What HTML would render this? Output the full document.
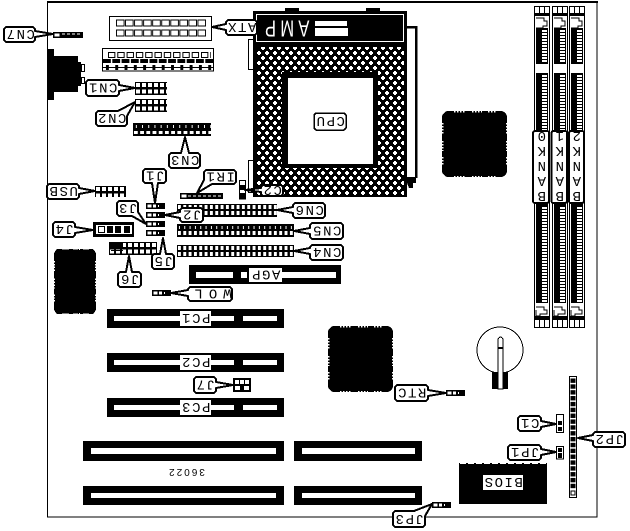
<!DOCTYPE html>
<html><head><meta charset="utf-8"><style>
html,body{margin:0;padding:0;background:#fff}
svg{display:block}
text{font-family:"Liberation Mono",monospace;font-size:14px;letter-spacing:1.5px;text-anchor:middle;fill:#000}
.l{fill:#fff;stroke:#000;stroke-width:2;stroke-linejoin:round}
</style></head><body>
<svg xmlns="http://www.w3.org/2000/svg" width="630" height="531" viewBox="0 0 630 531" shape-rendering="crispEdges">
<defs>
<pattern id="dots" width="8" height="10" patternUnits="userSpaceOnUse"><rect width="8" height="10" fill="#000"/><path d="M1 2H5V4H1ZM2 1H4V5H2ZM5 7H8V9H5ZM0 7H1V9H0ZM6 6H8V10H6Z" fill="#fff"/></pattern>
<pattern id="g6" width="6" height="6.5" patternUnits="userSpaceOnUse"><rect width="6" height="6.5" fill="#000"/><rect x="1" y="1" width="4" height="4" fill="#fff"/></pattern>
<pattern id="g5" width="5.33" height="6" patternUnits="userSpaceOnUse"><rect width="5.33" height="6" fill="#000"/><rect x="1" y="1" width="3" height="4" fill="#fff"/></pattern>
<pattern id="g5b" width="5.33" height="13" patternUnits="userSpaceOnUse"><rect width="5.33" height="13" fill="#000"/><rect x="1" y="7" width="3" height="4" fill="#fff"/><rect x="2" y="2" width="1" height="3" fill="#fff"/></pattern>
<pattern id="g6b" width="6.2" height="13" patternUnits="userSpaceOnUse"><rect width="6.2" height="13" fill="#000"/><rect x="1" y="8" width="4" height="3" fill="#fff"/><rect x="3" y="2" width="1" height="3" fill="#fff"/></pattern>
<pattern id="sq" width="9.05" height="7" patternUnits="userSpaceOnUse"><rect x=".5" y=".5" width="7.5" height="6" fill="#fff" stroke="#000"/></pattern>
<pattern id="sq2" width="9.3" height="6" patternUnits="userSpaceOnUse"><rect x=".5" y=".5" width="6.5" height="5" fill="#fff" stroke="#000"/></pattern>
<pattern id="dash" width="9.3" height="4" patternUnits="userSpaceOnUse"><rect width="8" height="4" fill="#000"/></pattern>
<pattern id="pin" width="9.3" height="5" patternUnits="userSpaceOnUse"><rect y="2" width="9.3" height="1" fill="#000"/><rect x="3" width="3" height="5" fill="#000"/></pattern>
<pattern id="tick" width="3" height="3" patternUnits="userSpaceOnUse"><rect width="3" height="2" fill="#fff"/></pattern>
<pattern id="jp2" width="8" height="5.85" patternUnits="userSpaceOnUse"><rect x="1.5" y=".8" width="5" height="4.4" fill="#000"/></pattern>
<g id="j3"><rect width="19" height="6" fill="#000"/><rect x="1.500" y="1.500" width="4" height="3" fill="#fff"/><rect x="7" y="1.500" width="3" height="3" fill="#fff"/><rect x="12" y="2" width="1" height="2" fill="#fff"/></g>
<g id="chip"><polygon points="3,1 5,0 60,0 62,1 64,3 65,5 65,61 64,63 62,65 60,66 5,66 3,65 1,63 0,61 0,5 1,3" fill="#000"/><path d="M12 .5H24M30 .5H40M46 .5H55M12 65.500H24M30 65.500H40M46 65.500H55" stroke="#fff" stroke-width="1.500" stroke-dasharray="1.500 1.500" fill="none"/><path d="M.5 12V24M.5 30V40M.5 46V55M64.500 12V24M64.500 30V40M64.500 46V55" stroke="#fff" stroke-width="1.500" stroke-dasharray="1.500 1.500" fill="none"/></g>
<g id="bank">
<rect x="534.500" y="6.500" width="15" height="321" fill="#fff" stroke="#000"/>
<path d="M539.500 6V14M544.500 6V14M539.500 320V328M544.500 320V328" stroke="#000" fill="none"/>
<rect x="534" y="13" width="16" height="3" fill="#000"/>
<path d="M536 18H544V21H547V26H543V28H536" fill="none" stroke="#000" stroke-width="1"/>
<rect x="536" y="28" width="12" height="36" fill="#000"/><rect x="542" y="30" width="5" height="33" fill="url(#tick)"/>
<rect x="536" y="73" width="12" height="60" fill="#000"/><rect x="542" y="74" width="5" height="56" fill="url(#tick)"/>
<rect x="536" y="200" width="12" height="103" fill="#000"/><rect x="542" y="206" width="5" height="96" fill="url(#tick)"/>
<path d="M536 307H544V310H547V314H540V316H536V310" fill="none" stroke="#000" stroke-width="1"/>
<rect x="534" y="316" width="16" height="4" fill="#000"/>
</g>
<g id="pcs"><rect width="177" height="19" fill="#000"/><rect x="7" y="7" width="120" height="5" fill="#fff"/><rect x="136" y="7" width="34" height="5" fill="#fff"/></g>
</defs>

<rect x="47.500" y="2" width="549.500" height="515" fill="#fff" stroke="#000"/>
<rect x="47" y="1" width="551" height="2" fill="#000"/>

<!-- ATX power -->
<rect x="109.500" y="16.500" width="102" height="24" fill="#fff" stroke="#000"/>
<g transform="translate(116,19.500)"><rect width="90" height="7" fill="url(#sq)"/></g>
<g transform="translate(116,29.500)"><rect width="90" height="7" fill="url(#sq)"/></g>

<!-- second header -->
<rect x="102.500" y="48.500" width="111" height="22.500" fill="#fff" stroke="#000"/>
<g transform="translate(108,52)"><rect width="103" height="6" fill="url(#sq2)"/></g>
<g transform="translate(103,59)"><rect width="110" height="4" fill="url(#dash)"/></g>
<g transform="translate(103,65)"><rect width="110" height="5" fill="url(#pin)"/></g>

<!-- DIN -->
<polygon points="47,49 54,49 54,56 78,56 78,92 54,92 54,100 47,100" fill="#000"/>
<rect x="78" y="62" width="3" height="24" fill="#000"/>
<rect x="81.500" y="64.500" width="3" height="7" fill="#fff" stroke="#000"/>
<rect x="81.500" y="77.500" width="3" height="6" fill="#fff" stroke="#000"/>

<!-- CN7 -->
<rect x="53" y="32" width="30" height="6" fill="#000"/><rect x="54.500" y="33.500" width="5" height="3" fill="#fff"/>
<path d="M62 34H65M67 34H70M72 34H75M77 34H80" stroke="#fff" fill="none"/>

<!-- CN1 CN2 CN3 -->
<g transform="translate(135,82)"><rect width="32" height="13" fill="url(#g6)"/></g>
<g transform="translate(135,99)"><rect width="32" height="13" fill="url(#g6)"/></g>
<g transform="translate(133,123)"><rect width="78" height="13" fill="url(#g6b)"/></g>

<!-- CPU -->
<rect x="285" y="8" width="14" height="4" fill="#000"/>
<rect x="366" y="8" width="14" height="4" fill="#000"/>
<rect x="407" y="26" width="9" height="152" fill="#fff"/>
<path d="M407 27H416V178M407 178H416" stroke="#000" stroke-width="2.500" fill="none"/>
<polygon points="407,178 416,178 416,183 413,183 413,188 409,188 407,183" fill="#000"/>
<rect x="248.500" y="39.500" width="5" height="30" fill="#fff" stroke="#000"/>
<rect x="248.500" y="160.500" width="5" height="32" fill="#fff" stroke="#000"/>
<rect x="253" y="11" width="154" height="186" fill="#000"/>
<rect x="256.500" y="14.500" width="147" height="27" fill="none" stroke="#fff"/>
<rect x="315" y="21" width="32" height="5" fill="#fff"/>
<rect x="315" y="28" width="33" height="8" fill="#fff"/>
<text x="285" y="36.500" transform="rotate(180 285 28.500) translate(285 0) scale(.72 1) translate(-285 0)" style="fill:#fff;font-family:'Liberation Sans',sans-serif;font-size:23px;letter-spacing:6px">AMP</text>
<rect x="257" y="47" width="147" height="148" fill="url(#dots)"/>
<rect x="282" y="72" width="96" height="96" fill="#000"/>
<rect x="288" y="78" width="85" height="86" fill="#fff"/>
<polygon class="l" points="314,115 316,113 344,113 346,115 346,128 344,130 316,130 314,128" style="stroke-width:1.500"/>
<text x="330" y="126" transform="rotate(180 330 121.500)">CPU</text>

<!-- C2 jumper -->
<rect x="239.500" y="180.500" width="6" height="18.500" fill="#fff" stroke="#000"/>
<rect x="239" y="185" width="7" height="5" fill="#000"/><rect x="239" y="193" width="7" height="6" fill="#000"/>

<!-- chips -->
<use href="#chip" transform="translate(442,111)"/>
<use href="#chip" transform="translate(328,326)"/>
<use href="#chip" transform="translate(54,249) scale(.646,.985)"/>

<!-- banks -->
<use href="#bank"/>
<use href="#bank" transform="translate(18,0)"/>
<use href="#bank" transform="translate(35,0)"/>
<rect x="533" y="131" width="16" height="72" rx="2" fill="#fff" stroke="#000" stroke-width="2"/>
<rect x="551.500" y="131" width="15.500" height="72" rx="2" fill="#fff" stroke="#000" stroke-width="2"/>
<rect x="569" y="131" width="15" height="72" rx="2" fill="#fff" stroke="#000" stroke-width="2"/>
<g style="letter-spacing:0">
<text x="541" y="141" transform="rotate(180 541 136.500)">0</text>
<text x="541" y="156" transform="rotate(180 541 151.500)">K</text>
<text x="541" y="171" transform="rotate(180 541 166.500)">N</text>
<text x="541" y="186" transform="rotate(180 541 181.500)">A</text>
<text x="541" y="201" transform="rotate(180 541 196.500)">B</text>
<text x="559" y="141" transform="rotate(180 559 136.500)">1</text>
<text x="559" y="156" transform="rotate(180 559 151.500)">K</text>
<text x="559" y="171" transform="rotate(180 559 166.500)">N</text>
<text x="559" y="186" transform="rotate(180 559 181.500)">A</text>
<text x="559" y="201" transform="rotate(180 559 196.500)">B</text>
<text x="576" y="141" transform="rotate(180 576 136.500)">2</text>
<text x="576" y="156" transform="rotate(180 576 151.500)">K</text>
<text x="576" y="171" transform="rotate(180 576 166.500)">N</text>
<text x="576" y="186" transform="rotate(180 576 181.500)">A</text>
<text x="576" y="201" transform="rotate(180 576 196.500)">B</text>
</g>

<!-- small connectors -->
<g transform="translate(95,186)"><rect width="31" height="11" fill="url(#g6)"/></g>
<rect x="180" y="193" width="43" height="6" fill="#000"/><rect x="181.500" y="194.500" width="5" height="3" fill="#fff"/>
<path d="M188 196H221" stroke="#fff" stroke-dasharray="3 2" fill="none"/>
<use href="#j3" transform="translate(146,203)"/>
<use href="#j3" transform="translate(146,212)"/>
<use href="#j3" transform="translate(146,221)"/>
<use href="#j3" transform="translate(146,230)"/>
<g transform="translate(177,204)"><rect width="100" height="13" fill="url(#g5)"/></g>
<g transform="translate(177,224)"><rect width="117" height="13" fill="url(#g5b)"/></g>
<g transform="translate(177,245)"><rect width="117" height="12" fill="url(#g5)"/></g>
<g transform="translate(109,242)"><rect width="48" height="13" fill="url(#g6)"/></g>
<rect x="109" y="242" width="14" height="7" fill="#000"/><rect x="111" y="250" width="12" height="1" fill="#000"/>
<rect x="93" y="222" width="41" height="15" fill="#000"/>
<rect x="96" y="225" width="36" height="9" fill="#fff"/>
<rect x="98.500" y="226.500" width="6" height="6" fill="#fff" stroke="#000"/>
<rect x="107" y="226" width="6" height="7" fill="#000"/><rect x="115" y="226" width="6" height="7" fill="#000"/><rect x="124" y="226" width="6" height="7" fill="#000"/>
<use href="#j3" transform="translate(152,290)"/>
<use href="#j3" transform="translate(446,390)"/>
<use href="#j3" transform="translate(432,502)"/>
<rect x="233" y="378" width="18" height="14" fill="#000"/>
<rect x="235" y="380" width="4" height="4" fill="#fff"/><rect x="240" y="380" width="4" height="4" fill="#fff"/><rect x="245" y="380" width="4" height="4" fill="#fff"/>
<rect x="235" y="386" width="5" height="4" fill="#fff"/><rect x="244" y="386" width="5" height="4" fill="#fff"/>

<!-- slots -->
<rect x="189" y="265" width="152" height="19" fill="#000"/>
<rect x="196" y="272" width="37" height="6" fill="#fff"/><rect x="241" y="272" width="6" height="6" fill="#fff"/><rect x="282" y="272" width="54" height="6" fill="#fff"/>
<rect x="249" y="268" width="33" height="14" fill="#fff"/>
<text x="265.500" y="279.500" transform="rotate(180 265.500 275)">AGP</text>
<use href="#pcs" transform="translate(107,309)"/>
<use href="#pcs" transform="translate(107,353)"/>
<use href="#pcs" transform="translate(107,398)"/>
<rect x="180" y="311" width="31" height="15" fill="#fff"/><text x="195.500" y="323" transform="rotate(180 195.500 318.500)">PC1</text>
<rect x="180" y="355" width="31" height="15" fill="#fff"/><text x="195.500" y="367" transform="rotate(180 195.500 362.500)">PC2</text>
<rect x="180" y="400" width="31" height="15" fill="#fff"/><text x="195.500" y="412" transform="rotate(180 195.500 407.500)">PC3</text>
<rect x="83" y="441" width="201" height="20" fill="#000"/><rect x="91" y="448" width="185" height="6" fill="#fff"/>
<rect x="83" y="486" width="201" height="19" fill="#000"/><rect x="91" y="493" width="185" height="5" fill="#fff"/>
<rect x="294" y="441" width="128" height="20" fill="#000"/><rect x="302" y="448" width="113" height="6" fill="#fff"/>
<rect x="294" y="486" width="128" height="19" fill="#000"/><rect x="302" y="493" width="113" height="5" fill="#fff"/>
<text x="186" y="476" transform="rotate(180 186 472.500)" style="font-family:'Liberation Sans',sans-serif;font-size:10px;letter-spacing:2px">36022</text>

<!-- battery -->
<circle cx="500" cy="350" r="23" fill="#fff" stroke="#000"/>
<rect x="492" y="372" width="16" height="17" fill="#000"/>
<path d="M498 389V339Q500.500 335 503 339V389Z" fill="#fff" stroke="#000"/>
<rect x="498" y="347" width="5" height="2" fill="#000"/>

<!-- JP2 / C1 / JP1 -->
<rect x="569.500" y="376.500" width="7" height="121" fill="#fff" stroke="#000"/>
<g transform="translate(569,377.500)"><rect width="8" height="112" fill="url(#jp2)"/></g>
<rect x="571" y="491" width="4" height="4" fill="#fff" stroke="#000"/>
<rect x="556.500" y="414.500" width="7" height="18" fill="#fff" stroke="#000"/>
<rect x="558" y="421" width="4" height="4" fill="#000"/><rect x="558" y="427" width="4" height="4" fill="#000"/>
<rect x="556.500" y="446.500" width="7" height="12.500" fill="#fff" stroke="#000"/>
<rect x="558" y="448" width="4" height="4" fill="#000"/><rect x="558" y="453" width="4" height="5" fill="#000"/>

<!-- BIOS -->
<rect x="459" y="463" width="88" height="41" fill="#000"/>
<path d="M460 463.500H547" stroke="#fff" stroke-dasharray="6 2" fill="none"/>
<rect x="483" y="475" width="40" height="15" fill="#fff"/>
<text x="503" y="487" transform="rotate(180 503 482.500)">BIOS</text>

<!-- labels -->
<polygon class="l" points="4,29 6,27 33,27 35,29 35,31 53,34 35,37 35,40 33,42 6,42 4,40"/><text x="20" y="39" transform="rotate(180 20 34.500)">CN7</text>
<polygon class="l" points="226,24 212,27 226,30 226,33 228,35 255,35 257,33 257,22 255,20 228,20 226,22"/><text x="241.500" y="32" transform="rotate(180 241.500 27.500)">ATX</text>
<polygon class="l" points="86,82 88,80 117,80 119,82 119,85 135,88 119,91 119,94 117,96 88,96 86,94"/><text x="102.500" y="92.500" transform="rotate(180 102.500 88)">CN1</text>
<polygon class="l" points="96,113 98,111 118,111 135,102 127,116 127,124 125,126 98,126 96,124"/><text x="111.500" y="123" transform="rotate(180 111.500 118.500)">CN2</text>
<polygon class="l" points="169,155 171,153 181,153 185,137 189,153 198,153 200,155 200,166 198,168 171,168 169,166"/><text x="184.500" y="165" transform="rotate(180 184.500 160.500)">CN3</text>
<polygon class="l" points="143,171 145,169 164,169 166,171 166,181 164,183 158,183 155,203 152,183 145,183 143,181"/><text x="154.500" y="180.500" transform="rotate(180 154.500 176)">J1</text>
<polygon class="l" points="204,172 206,170 234,170 236,172 236,182 234,184 212,184 197,193 204,180"/><text x="220" y="181.500" transform="rotate(180 220 177)">IR1</text>
<polygon class="l" points="47,186 49,184 77,184 79,186 79,188 95,191 79,194 79,197 77,199 49,199 47,197"/><text x="63" y="196" transform="rotate(180 63 191.500)">USB</text>
<polygon class="l" points="261,187 263,185 281,185 283,187 283,194 281,196 263,196 261,194 261,192 245,190 261,188"/><text x="272" y="195" transform="rotate(180 272 190.500)">C2</text>
<polygon class="l" points="117,203 119,201 136,201 138,203 138,212 146,224 132,216 119,216 117,214"/><text x="127.500" y="213" transform="rotate(180 127.500 208.500)">J3</text>
<polygon class="l" points="180,210 182,208 201,208 203,210 203,220 201,222 182,222 180,220 180,218 165,215 180,212"/><text x="191.500" y="219.500" transform="rotate(180 191.500 215)">J2</text>
<polygon class="l" points="293,205 295,203 323,203 325,205 325,216 323,218 295,218 293,216 293,213 277,210 293,207"/><text x="309" y="215" transform="rotate(180 309 210.500)">CN6</text>
<polygon class="l" points="310,225 312,223 341,223 343,225 343,237 341,239 312,239 310,237 310,234 294,231 310,228"/><text x="326.500" y="235.500" transform="rotate(180 326.500 231)">CN5</text>
<polygon class="l" points="310,247 312,245 341,245 343,247 343,258 341,260 312,260 310,258 310,254 294,251 310,248"/><text x="326.500" y="257" transform="rotate(180 326.500 252.500)">CN4</text>
<polygon class="l" points="53,224 55,222 73,222 75,224 75,227 93,230 75,233 75,235 73,237 55,237 53,235"/><text x="64" y="234" transform="rotate(180 64 229.500)">J4</text>
<polygon class="l" points="152,256 154,254 160,254 163,238 166,254 172,254 174,256 174,267 172,269 154,269 152,267"/><text x="163" y="266" transform="rotate(180 163 261.500)">J5</text>
<polygon class="l" points="118,274 120,272 126,272 129,256 132,272 139,272 141,274 141,285 139,287 120,287 118,285"/><text x="129.500" y="284" transform="rotate(180 129.500 279.500)">J6</text>
<polygon class="l" points="188,289 190,287 230,287 232,289 232,299 230,301 190,301 188,299 188,296 171,293 188,290"/><text x="210" y="298.500" transform="rotate(180 210 294)" style="letter-spacing:6px">WOL</text>
<polygon class="l" points="194,379 196,377 214,377 216,379 216,382 233,385 216,388 216,391 214,393 196,393 194,391"/><text x="205" y="389.500" transform="rotate(180 205 385)">J7</text>
<polygon class="l" points="395,387 397,385 426,385 428,387 428,390 446,393 428,396 428,399 426,401 397,401 395,399"/><text x="411.500" y="397.500" transform="rotate(180 411.500 393)">RTC</text>
<polygon class="l" points="518,418 520,416 539,416 541,418 541,421 556,424 541,427 541,429 539,431 520,431 518,429"/><text x="529.500" y="428" transform="rotate(180 529.500 423.500)">C1</text>
<polygon class="l" points="508,447 510,445 539,445 541,447 541,449 556,452 541,455 541,458 539,460 510,460 508,458"/><text x="524.500" y="457" transform="rotate(180 524.500 452.500)">JP1</text>
<polygon class="l" points="593,434 595,432 623,432 625,434 625,445 623,447 595,447 593,445 593,441 578,438 593,435"/><text x="609" y="444" transform="rotate(180 609 439.500)">JP2</text>
<polygon class="l" points="393,513 395,511 414,511 432,504 425,516 425,525 423,527 395,527 393,525"/><text x="409" y="524" transform="rotate(180 409 519.500)">JP3</text>
</svg>
</body></html>
